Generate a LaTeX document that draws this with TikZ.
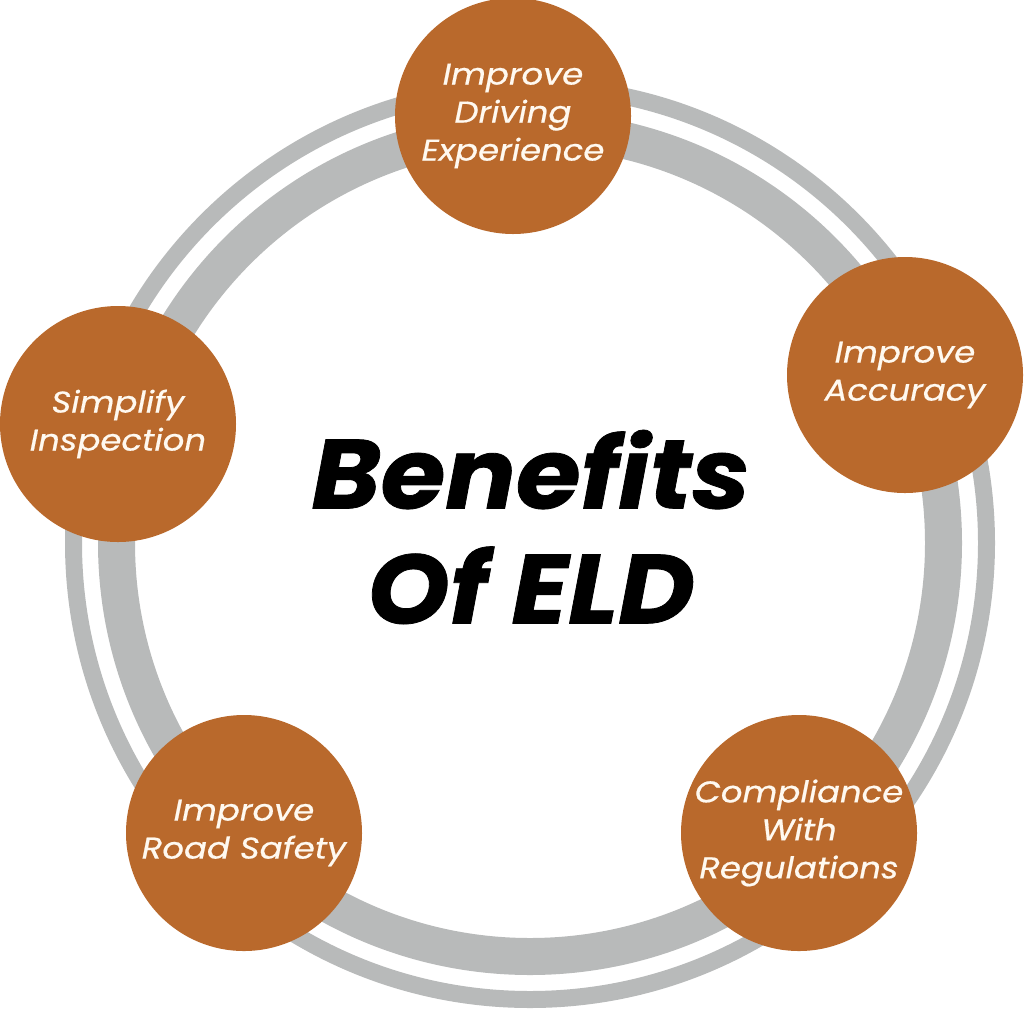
\documentclass[tikz,border=0pt]{standalone}
\usepackage{fontspec}
\setmainfont{Poppins}
\newfontfamily\benfont{Poppins}[FakeStretch=1.13,FakeBold=0.6]
\newfontfamily\titlefont{Poppins}[FakeStretch=1.07,FakeBold=0.8]
\definecolor{ringgray}{HTML}{B8BABA}
\definecolor{rust}{HTML}{B9692C}
\definecolor{cream}{HTML}{FFF9F0}
\begin{document}
\begin{tikzpicture}[x=1pt,y=-1pt,
  benefit/.style={circle,fill=rust,minimum size=236pt,inner sep=0pt,text=cream,
    align=center,font=\benfont\fontsize{30}{38}\selectfont\itshape},
  title/.style={align=center,font=\titlefont\fontsize{98}{115}\selectfont\bfseries\itshape,text=black}]
\useasboundingbox (0,0) rectangle (1024,1010);
\coordinate (c) at (530,543);
\draw[ringgray,line width=17pt] (c) circle[radius=456.5];
\draw[ringgray,line width=37pt] (c) circle[radius=413.5];
\node[benefit] (drive) at (513,116) {Improve\\Driving\\Experience};
\node[benefit] (acc) at (905,375) {Improve\\Accuracy};
\node[benefit] (insp) at (118,424) {Simplify\\Inspection};
\node[benefit] (road) at (244,833) {Improve\\Road Safety};
\node[benefit] (comp) at (799,833) {Compliance\\With\\Regulations};
\node[title] (t) at (531,527) {Benefits\\Of ELD};
\end{tikzpicture}
\end{document}
